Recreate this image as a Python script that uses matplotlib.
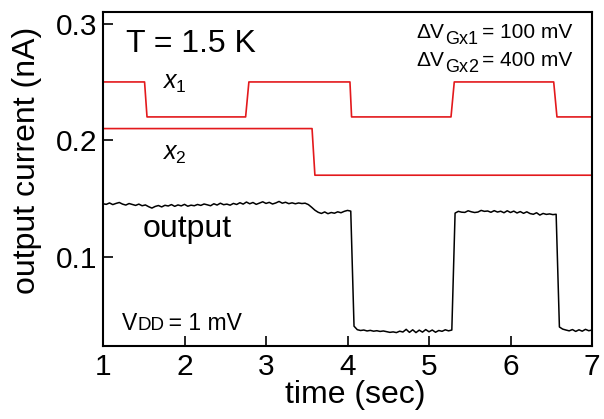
"""Logic gate response: input gate steps x1, x2 and the output current vs time"""

import numpy as np
import matplotlib.pyplot as plt

plt.rcParams['font.family'] = ['Liberation Sans', 'DejaVu Sans']
plt.rcParams['mathtext.fontset'] = 'custom'
plt.rcParams['mathtext.rm'] = 'Liberation Sans'
plt.rcParams['mathtext.it'] = 'Liberation Sans:italic'

# input gate signals (drawn as steps, nA scale offsets)
x1_t = [1.0, 1.51, 1.54, 2.75, 2.79, 4.03, 4.05, 5.27, 5.31, 6.53, 6.57, 7.0]
x1_i = [0.25, 0.25, 0.22, 0.22, 0.25, 0.25, 0.22, 0.22, 0.25, 0.25, 0.22, 0.22]
x2_t = [1.0, 3.565, 3.60, 7.0]
x2_i = [0.21, 0.21, 0.17, 0.17]

# output current sampled every 0.04 s from 1 s to 7 s
out_t = np.round(np.arange(151) * 0.04 + 1.0, 2)
out_i = [
    0.1455, 0.1450, 0.1462, 0.1448, 0.1458, 0.1466, 0.1452, 0.1444, 0.1457, 0.1449,
    0.1441, 0.1452, 0.1438, 0.1445, 0.1430, 0.1418, 0.1432, 0.1440, 0.1428, 0.1442,
    0.1436, 0.1448, 0.1433, 0.1445, 0.1437, 0.1450, 0.1434, 0.1443, 0.1438, 0.1449,
    0.1441, 0.1453, 0.1446, 0.1438, 0.1455, 0.1444, 0.1460, 0.1447, 0.1452, 0.1443,
    0.1458, 0.1449, 0.1464, 0.1452, 0.1470, 0.1455, 0.1466, 0.1450, 0.1461, 0.1472,
    0.1458, 0.1467, 0.1453, 0.1462, 0.1475, 0.1460, 0.1468, 0.1456, 0.1463, 0.1455,
    0.1462, 0.1457, 0.1460, 0.1448, 0.1425, 0.1400,
    0.1382, 0.1372, 0.1385, 0.1370, 0.1380, 0.1374, 0.1386, 0.1378, 0.1390, 0.1398, 0.1392,
    0.0405,
    0.0375, 0.0368, 0.0372, 0.0364, 0.0369, 0.0362, 0.0366, 0.0360, 0.0364, 0.0358,
    0.0352, 0.0356, 0.0350, 0.0362, 0.0355, 0.0378, 0.0352, 0.0374, 0.0350, 0.0371,
    0.0354, 0.0376, 0.0357, 0.0372, 0.0353, 0.0368, 0.0361, 0.0374, 0.0365, 0.0372,
    0.1375, 0.1390, 0.1383, 0.1381, 0.1395, 0.1386, 0.1380, 0.1384, 0.1398, 0.1390,
    0.1393, 0.1382, 0.1396, 0.1384, 0.1391, 0.1378, 0.1395, 0.1380, 0.1392, 0.1376,
    0.1388, 0.1373, 0.1386, 0.1371, 0.1365, 0.1378, 0.1358, 0.1372, 0.1364, 0.1368, 0.1362, 0.1365,
    0.0398,
    0.0380, 0.0372, 0.0365, 0.0376, 0.0360, 0.0374, 0.0362, 0.0378, 0.0366, 0.0372,
]

fig = plt.figure(figsize=(6.04, 4.19), dpi=100)
ax = fig.add_axes([103/604, 1 - 346/419, 489/604, 334/419])

ax.plot(x1_t, x1_i, color='#e3191c', lw=1.2)
ax.plot(x2_t, x2_i, color='#e3191c', lw=1.2)
ax.plot(out_t, out_i, color='black', lw=1.1)

ax.set_xlim(1, 7)
ax.set_ylim(0.0235, 0.31)
ax.set_xticks([1, 2, 3, 4, 5, 6, 7])
ax.set_yticks([0.1, 0.2, 0.3])
ax.set_yticklabels(['0.1', '0.2', '0.3'])

for s in ax.spines.values():
    s.set_linewidth(1.5)
ax.tick_params(direction='in', length=7, width=1.2, labelsize=21.5)
ax.tick_params(axis='x', pad=5)
ax.tick_params(axis='y', pad=4)

ax.set_xlabel('time (sec)', fontsize=23)
ax.set_ylabel('output current (nA)', fontsize=23)
ax.xaxis.set_label_coords(0.515, -0.103)
ax.yaxis.set_label_coords(-0.125, 0.557)

ax.text(1.28, 0.2754, 'T = 1.5 K', fontsize=23, va='baseline', ha='left')
ax.text(1.49, 0.1171, 'output', fontsize=23, ha='left', va='baseline')
ax.text(1.73, 0.2443, r'$x_1$', fontsize=18, ha='left', va='baseline')
ax.text(1.72, 0.1834, r'$x_2$', fontsize=18, ha='left', va='baseline')


def chain(t0, v0, pieces):
    """Write text pieces one after another from a baseline point."""
    r = fig.canvas.get_renderer()
    dx = 0.0
    for s, size, dy in pieces:
        txt = ax.annotate(s, (t0, v0), xytext=(dx, dy), textcoords='offset points',
                          fontsize=size, ha='left', va='baseline')
        dx += txt.get_window_extent(r).width * 72 / fig.dpi


chain(4.85, 0.288, [('\u0394V', 15, 0), ('G', 13, -4.3), ('x', 13, -4.3), ('1', 13, -4.3),
                    ('\u2009= 100 mV', 15, 0)])
chain(4.85, 0.2634, [('\u0394V', 15, 0), ('G', 13, -4.3), ('x', 13, -4.3), ('2', 13, -4.3),
                     ('\u2009= 400 mV', 15, 0)])
chain(1.235, 0.0372, [('V', 16.5, 0), ('DD', 13.5, 0), ('\u2009= 1 mV', 16.5, 0)])

fig.savefig('out.png', dpi=100)
